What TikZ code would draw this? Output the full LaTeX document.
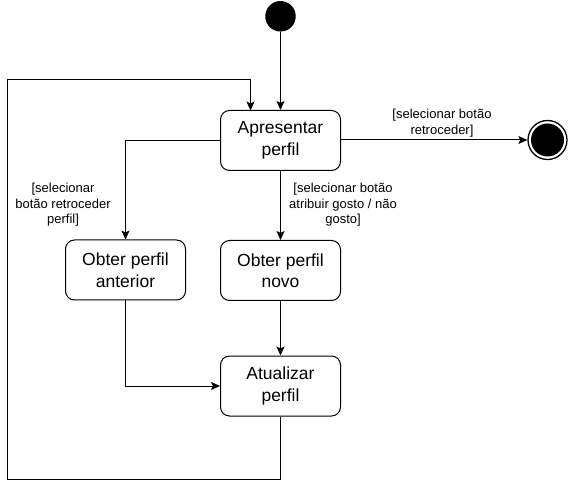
\documentclass[tikz,border=0pt]{standalone}
\usepackage{fontspec}
\setmainfont{Liberation Sans}
\usetikzlibrary{arrows.meta}
\begin{document}
\begin{tikzpicture}[x=1pt,y=-1pt,
  state/.style={draw,line width=1pt,rounded corners=9pt,minimum width=120pt,minimum height=60pt,align=center,font=\fontsize{17.5}{21.5}\selectfont,inner sep=0pt},
  conn/.style={line width=1pt,-{Stealth[length=9pt,width=8pt,inset=2pt]}},
  lbl/.style={font=\fontsize{13}{15.6}\selectfont,align=center,inner sep=0pt}]
\useasboundingbox (0,0) rectangle (568,489);
\node[circle,fill=black,minimum size=30.5pt,inner sep=0pt] (start) at (280.5,16.3) {};
\node[state] (apr) at (280.5,140.5) {Apresentar\\perfil};
\node[state] (ant) at (125.5,270) {Obter perfil\\anterior};
\node[state] (novo) at (280.5,270.5) {Obter perfil\\novo};
\node[state] (atu) at (280.5,386) {Atualizar\\perfil};
\node[circle,draw,line width=1.3pt,minimum size=39pt,inner sep=0pt] (fin) at (547.5,140) {};
\node[circle,fill=black,minimum size=33pt,inner sep=0pt] at (fin) {};
\coordinate (l1) at (280.5,479);
\coordinate (l2) at (7.5,479);
\coordinate (l3) at (7.5,80);
\coordinate (l4) at (250.5,80);
\coordinate (aprtop) at (250.5,110.5);
\draw[conn] (start) -- (apr);
\draw[conn] (apr.east |- fin) -- (fin);
\draw[conn] (apr.west |- 0,140.5) -| (ant);
\draw[conn] (apr) -- (novo);
\draw[conn] (novo) -- (atu);
\draw[conn] (ant) |- (atu);
\draw[conn] (atu) -- (l1) -- (l2) -- (l3) -- (l4) -- (aprtop);
\node[lbl] (t1) at (442,123) {[selecionar botão\\retroceder]};
\node[lbl] (t2) at (63,205) {[selecionar\\botão retroceder\\perfil]};
\node[lbl] (t3) at (343,205) {[selecionar botão\\atribuir gosto / não\\gosto]};
\end{tikzpicture}
\end{document}
